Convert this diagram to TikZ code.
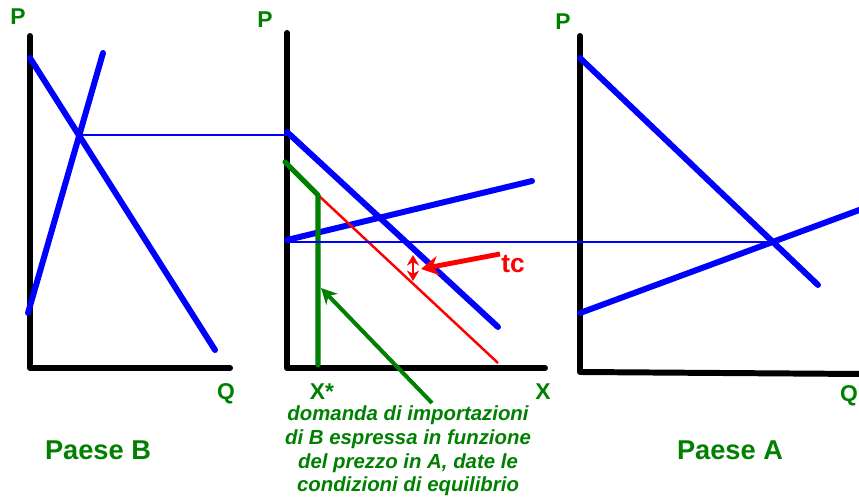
\documentclass[tikz,border=0pt]{standalone}
\usepackage{fontspec}
\setmainfont{Liberation Sans}
\usetikzlibrary{arrows.meta}
\definecolor{dgreen}{RGB}{0,128,0}
\tikzset{
  asse/.style={black, line width=3.4pt, line cap=round, line join=round},
  curva/.style={blue, line width=3.4pt, line cap=round},
  livello/.style={blue, line width=1.1pt},
  etich/.style={dgreen, font=\bfseries\fontsize{13}{15}\selectfont},
  paese/.style={dgreen, font=\bfseries\fontsize{15.5}{18}\selectfont}
}
\begin{document}
\begin{tikzpicture}[x=0.02cm, y=-0.02cm]
    \useasboundingbox (0,0) rectangle (859,502);

    % Paese B
    \draw[asse] (30,36) -- (30,368) -- (230,368);
    \node[etich] (pB) at (18,17) {P};
    \node[etich] (qB) at (226,394) {Q};
    \coordinate (dB1) at (30,58);
    \coordinate (dB2) at (215,350);
    \coordinate (sB1) at (28,313);
    \coordinate (sB2) at (103,53);
    \draw[curva] (dB1) -- (dB2);
    \draw[curva] (sB1) -- (sB2);
    \coordinate (eB) at (78,135);
    \node[paese] (nomeB) at (98,450) {Paese B};

    % mercato internazionale
    \draw[asse] (287,33) -- (287,368) -- (545,368);
    \node[etich] (pM) at (265,20) {P};
    \node[etich] (xM) at (543,392) {X};
    \node[etich] (xstar) at (322,392) {X*};
    \coordinate (dM1) at (287,132);
    \coordinate (dM2) at (498,327);
    \coordinate (sM1) at (287,240);
    \coordinate (sM2) at (532,181);
    \draw[curva] (dM1) -- (dM2);
    \draw[curva] (sM1) -- (sM2);
    \coordinate (r1) at (318,195);
    \coordinate (r2) at (498,363);
    \draw[red, line width=1.4pt] (r1) -- (r2);
    \coordinate (g0) at (285,162);
    \coordinate (g2) at (318,365);
    \draw[dgreen, line width=2.9pt, line cap=round, line join=round] (g0) -- (r1) -- (g2);

    % Paese A
    \draw[asse] (580,36) -- (580,372) -- (861,374);
    \node[etich] (pA) at (563,22) {P};
    \node[etich] (qA) at (849,396) {Q};
    \coordinate (dA1) at (580,58);
    \coordinate (dA2) at (818,285);
    \coordinate (sA1) at (580,313);
    \coordinate (sA2) at (862,209);
    \draw[curva] (dA1) -- (dA2);
    \draw[curva] (sA1) -- (sA2);
    \coordinate (eA) at (772,242);
    \node[paese] (nomeA) at (730,450) {Paese A};

    % linee di prezzo
    \draw[livello] (eB) -- (eB -| dM1);
    \draw[livello] (sM1 |- eA) -- (eA);

    % costo di trasporto
    \coordinate (tc1) at (413,255);
    \coordinate (tc2) at (413,281);
    \draw[red, line width=1.6pt, {Stealth[length=6pt,width=7pt]}-{Stealth[length=6pt,width=7pt]}] (tc1) -- (tc2);
    \node[red, font=\bfseries\fontsize{15}{17}\selectfont] (tc) at (513,264) {tc};
    \coordinate (tcc) at (500,254);
    \draw[red, line width=2.8pt, -{Stealth[length=10pt,width=11pt]}] (tcc) -- (421,269);

    % domanda di importazioni
    \node[dgreen, align=center, font=\bfseries\itshape\fontsize{11.6}{13.4}\selectfont] (testo) at (408,451)
      {domanda di importazioni\\di B espressa in funzione\\del prezzo in A, date le\\condizioni di equilibrio};
    \coordinate (gfreccia) at (432,403);
    \draw[dgreen, line width=2.3pt, -{Stealth[length=9pt,width=9pt]}] (gfreccia) -- (321,288);
\end{tikzpicture}
\end{document}
